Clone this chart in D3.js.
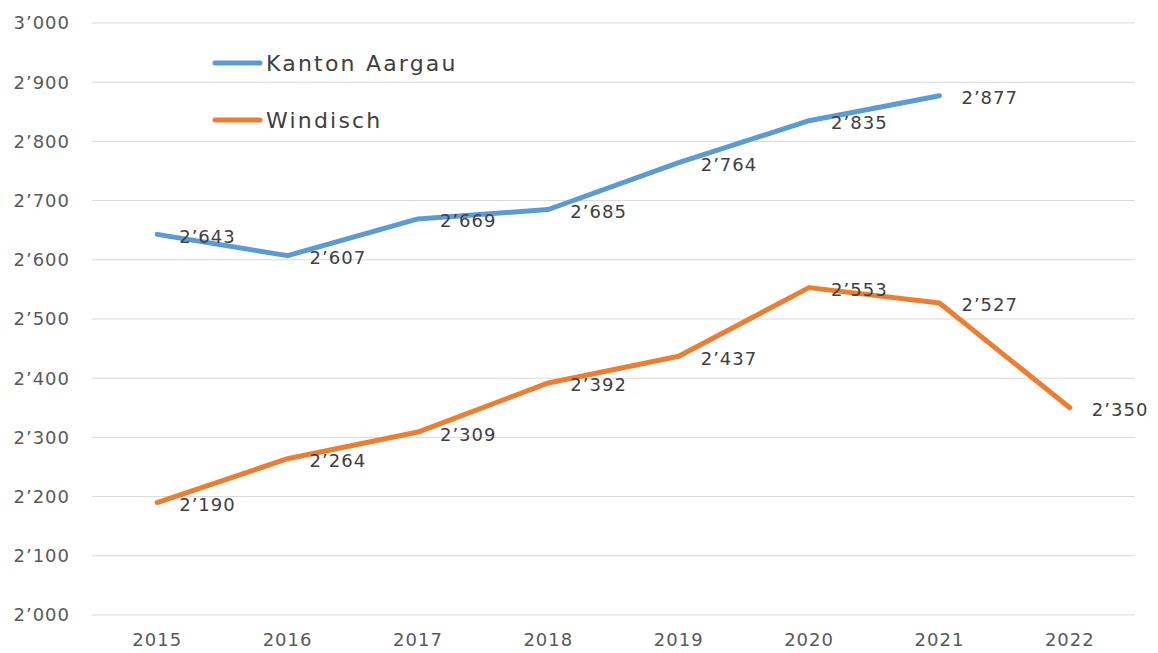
<!doctype html>
<html>
<head>
<meta charset="utf-8">
<script src="https://d3js.org/d3.v7.min.js"></script>
<style>
  body { margin: 0; background: #fff; }
  text { font-family: "DejaVu Sans", Verdana, sans-serif; }
</style>
</head>
<body>
<svg id="chart" width="1158" height="653"></svg>
<script>
// data
var years = ["2015", "2016", "2017", "2018", "2019", "2020", "2021", "2022"];
var aargau = [2643, 2607, 2669, 2685, 2764, 2835, 2877, null];
var windisch = [2190, 2264, 2309, 2392, 2437, 2553, 2527, 2350];
var yTicks = [2000, 2100, 2200, 2300, 2400, 2500, 2600, 2700, 2800, 2900, 3000];
var seriesNames = ["Kanton Aargau", "Windisch"];
var seriesColors = ["#5b9bd5", "#ed7d31"];

var svg = d3.select("#chart");
var plotLeft = 92, plotRight = 1135, plotTop = 23, plotBottom = 615;

var fmt = d3.formatLocale({ decimal: ".", thousands: "’", grouping: [3], currency: ["", ""] }).format(",d");

var x = d3.scaleBand().domain(years).range([plotLeft, plotRight]);
var y = d3.scaleLinear().domain([2000, 3000]).range([plotBottom, plotTop]);

// gridlines
svg.append("g").selectAll("line")
  .data(yTicks).enter().append("line")
  .attr("x1", plotLeft).attr("x2", plotRight)
  .attr("y1", function(d) { return y(d); })
  .attr("y2", function(d) { return y(d); })
  .attr("stroke", "#d9d9d9").attr("stroke-width", 1);

// y axis labels
svg.append("g").selectAll("text")
  .data(yTicks).enter().append("text")
  .attr("x", 70)
  .attr("y", function(d) { return y(d); })
  .attr("dy", "0.36em")
  .attr("text-anchor", "end")
  .attr("font-size", "18px")
  .attr("letter-spacing", "1px")
  .attr("fill", "#595959")
  .text(function(d) { return fmt(d); });

// x axis labels
svg.append("g").selectAll("text")
  .data(years).enter().append("text")
  .attr("x", function(d) { return x(d) + x.bandwidth() / 2; })
  .attr("y", 640)
  .attr("dy", "0.36em")
  .attr("text-anchor", "middle")
  .attr("font-size", "18px")
  .attr("letter-spacing", "1px")
  .attr("fill", "#595959")
  .text(function(d) { return d; });

var line = d3.line()
  .defined(function(d) { return d != null; })
  .x(function(d, i) { return x(years[i]) + x.bandwidth() / 2; })
  .y(function(d) { return y(d); });

[aargau, windisch].forEach(function(vals, k) {
  svg.append("path")
    .datum(vals)
    .attr("d", line)
    .attr("fill", "none")
    .attr("stroke", seriesColors[k])
    .attr("stroke-width", 5)
    .attr("stroke-linecap", "round")
    .attr("stroke-linejoin", "round");

  svg.append("g").selectAll("text")
    .data(vals.map(function(v, i) { return { v: v, yr: years[i] }; }).filter(function(d) { return d.v != null; }))
    .enter().append("text")
    .attr("x", function(d) { return x(d.yr) + x.bandwidth() / 2 + 22; })
    .attr("y", function(d) { return y(d.v) + 2; })
    .attr("dy", "0.36em")
    .attr("font-size", "18px")
    .attr("letter-spacing", "1px")
    .attr("fill", "#404040")
    .text(function(d) { return fmt(d.v); });
});

// legend
seriesNames.forEach(function(name, k) {
  var ly = 63 + k * 57;
  svg.append("line")
    .attr("x1", 215).attr("x2", 260)
    .attr("y1", ly).attr("y2", ly)
    .attr("stroke", seriesColors[k])
    .attr("stroke-width", 5)
    .attr("stroke-linecap", "round");
  svg.append("text")
    .attr("x", 266).attr("y", ly)
    .attr("dy", "0.36em")
    .attr("font-size", "22px")
    .attr("letter-spacing", "2.2px")
    .attr("fill", "#404040")
    .text(name);
});
</script>
</body>
</html>
